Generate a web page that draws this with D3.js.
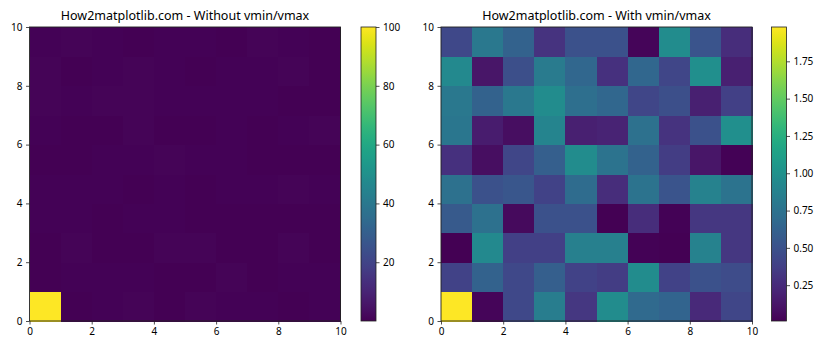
<!DOCTYPE html>
<html><head><meta charset="utf-8">
<script src="https://cdn.jsdelivr.net/npm/d3@7"></script>
<style>body{margin:0;background:#fff}svg{display:block}text{font-family:"Noto Sans",sans-serif;fill:#000}</style>
</head><body><svg id="c" width="840" height="350"></svg>
<script>
// rows listed bottom (y=0) to top (y=9), columns x=0..9
const rows = [
  [100,0.04,0.44,0.84,0.32,0.96,0.68,0.64,0.24,0.42],
  [0.40,0.62,0.44,0.60,0.40,0.36,0.96,0.40,0.50,0.46],
  [0.01,0.94,0.38,0.38,0.86,0.86,0.02,0.01,0.88,0.32],
  [0.56,0.74,0.06,0.50,0.50,0.01,0.26,0.02,0.32,0.32],
  [0.74,0.50,0.54,0.40,0.70,0.26,0.76,0.52,0.88,0.76],
  [0.28,0.08,0.42,0.60,0.96,0.76,0.62,0.36,0.12,0.02],
  [0.78,0.16,0.08,0.90,0.18,0.20,0.74,0.30,0.50,0.98],
  [0.80,0.62,0.80,0.96,0.72,0.66,0.42,0.48,0.18,0.38],
  [0.94,0.12,0.48,0.82,0.66,0.28,0.66,0.42,0.98,0.18],
  [0.44,0.80,0.62,0.30,0.50,0.50,0.04,0.96,0.52,0.26]
];
const titles = ["How2matplotlib.com - Without vmin/vmax","How2matplotlib.com - With vmin/vmax"];
const axisTicks = [0,2,4,6,8,10];
const cbTicksLeft = [20,40,60,80,100];
const cbTicksRight = [0.25,0.50,0.75,1.00,1.25,1.50,1.75];
const domainsLeft = [0.01,100];
const domainsRight = [0.01,1.98];

const svg = d3.select("#c");
const panels = [
  {x0:29.5,x1:340.5,cb0:361,title:titles[0],dom:domainsLeft,ticks:cbTicksLeft,fmt:d3.format("d")},
  {x0:441,x1:752,cb0:771.5,title:titles[1],dom:domainsRight,ticks:cbTicksRight,fmt:d3.format(".2f")}
];
const y0=27, y1=321;
const defs = svg.append("defs");
panels.forEach((p,pi)=>{
  const x = d3.scaleLinear().domain([0,10]).range([p.x0,p.x1]);
  const y = d3.scaleLinear().domain([0,10]).range([y1,y0]);
  const col = d3.scaleSequential(d3.interpolateViridis).domain(p.dom).clamp(true);
  const g = svg.append("g");
  const cells = [];
  rows.forEach((r,ri)=>r.forEach((v,ci)=>cells.push({r:ri,c:ci,v})));
  g.selectAll("rect.cell").data(cells).join("rect")
    .attr("x",d=>x(d.c)).attr("y",d=>y(d.r+1))
    .attr("width",d=>x(d.c+1)-x(d.c)+0.5).attr("height",d=>y(d.r)-y(d.r+1)+0.5)
    .attr("fill",d=>col(d.v)).attr("shape-rendering","crispEdges");
  g.append("rect").attr("x",p.x0).attr("y",y0).attr("width",p.x1-p.x0).attr("height",y1-y0)
    .attr("fill","none").attr("stroke","#222").attr("stroke-width",0.9);
  const xa = g.append("g").attr("transform",`translate(0,${y1})`)
    .call(d3.axisBottom(x).tickValues(axisTicks).tickSize(3.5).tickPadding(3.5).tickFormat(d3.format("d")));
  const ya = g.append("g").attr("transform",`translate(${p.x0},0)`)
    .call(d3.axisLeft(y).tickValues(axisTicks).tickSize(3.5).tickPadding(3.5).tickFormat(d3.format("d")));
  [xa,ya].forEach(a=>{a.select(".domain").remove();a.selectAll("line").attr("stroke","#222").attr("stroke-width",0.8);
    a.selectAll("text").attr("font-size","10px").attr("font-family","'Noto Sans',sans-serif").attr("fill","#000");});
  g.append("text").attr("x",(p.x0+p.x1)/2).attr("y",20).attr("text-anchor","middle")
    .attr("font-size","12.5px").text(p.title);
  // colorbar
  const gid="grad"+pi;
  const grad = defs.append("linearGradient").attr("id",gid).attr("x1",0).attr("y1",1).attr("x2",0).attr("y2",0);
  d3.range(0,1.0001,0.02).forEach(t=>grad.append("stop").attr("offset",t).attr("stop-color",d3.interpolateViridis(t)));
  const cy = d3.scaleLinear().domain(p.dom).range([y1,y0]);
  g.append("rect").attr("x",p.cb0).attr("y",y0).attr("width",15).attr("height",y1-y0).attr("fill",`url(#${gid})`)
    .attr("stroke","#222").attr("stroke-width",0.8);
  const ca = g.append("g").attr("transform",`translate(${p.cb0+15},0)`)
    .call(d3.axisRight(cy).tickValues(p.ticks).tickSize(3.5).tickPadding(3.5).tickFormat(p.fmt));
  ca.select(".domain").remove();
  ca.selectAll("line").attr("stroke","#222").attr("stroke-width",0.8);
  ca.selectAll("text").attr("font-size","10px").attr("font-family","'Noto Sans',sans-serif").attr("fill","#000");
});
</script></body></html>
